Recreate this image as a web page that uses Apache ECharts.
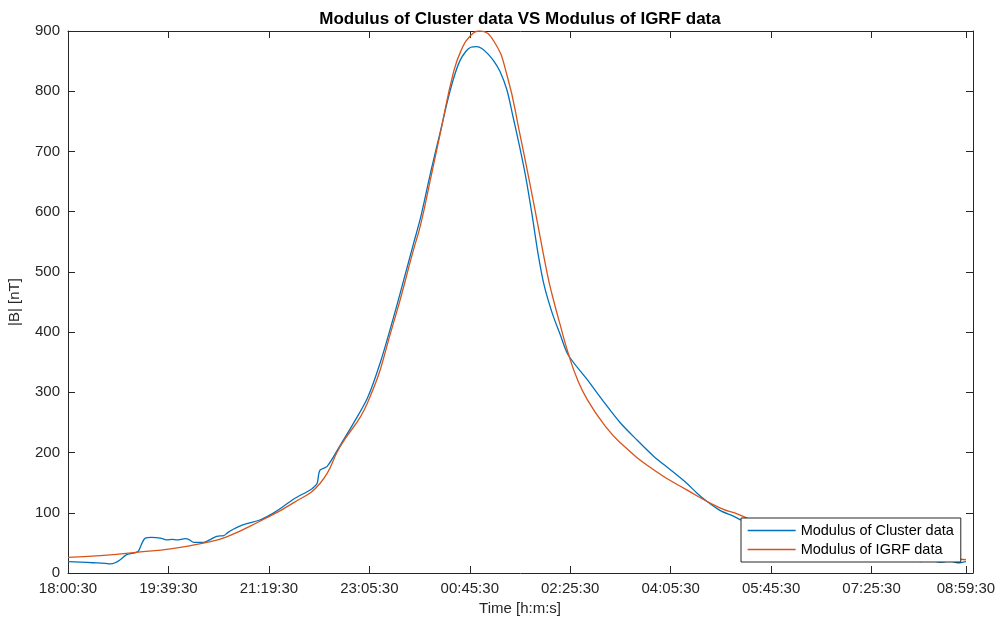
<!DOCTYPE html>
<html>
<head>
<meta charset="utf-8">
<script src="https://cdn.jsdelivr.net/npm/echarts@6/dist/echarts.min.js"></script>
<style>
html,body{margin:0;padding:0;background:#fff;}
#c{width:1002px;height:626px;}
</style>
</head>
<body>
<div id="c"></div>
<script>
// x in sample-index units (ticks every ~100)
const tickPos = [0,100,200,300,400,500,600,700,800,894];
const tickLabels = ['18:00:30','19:39:30','21:19:30','23:05:30','00:45:30','02:25:30','04:05:30','05:45:30','07:25:30','08:59:30'];
const yTicks = [0,100,200,300,400,500,600,700,800,900];

const clusterX = [0,12,25,37,42,47,52,58,65,70,73,77,83,92,98,104,108,117,121,125,135,141,148,155,159,165,171,178,191,204,214,224,238,243,248,249.5,251,258,271,284,298,311,324,334,344,351,361,371,378,384,390,396,401,407,412,418,424,430,437,443,450,456,462,468,474,482,490,498,517,533,550,567,583,600,616,626,636,649,663,670,689,709,729,759,789,819,839,849,859,869,878,886,894];
const clusterY = [19,18,17,16,15,17,22,30,33,36,47,58,59,58,55,56,55,57,55,51,51,55,61,62,67,73,78,82,88,99,110,122,135,140,149,163,171,177,212,248,290,350,424,485,547,590,665,735,785,822,850,866,873,874,871,862,850,833,802,758,705,655,595,530,478,432,396,362,321,285,249,220,194,171,149,133,119,104,94,88,75,62,52,40,30,24,22,19,21,18,20,17,19];

const igrfX = [0,32,72,102,138,158,191,224,251,271,298,324,344,351,361,371,384,392,400,410,424,437,450,464,477,482,490,498,507,517,533,550,583,616,649,668,689,729,779,829,894];
const igrfY = [26,29,35,40,51,60,86,116,149,210,282,415,537,578,655,733,833,870,891,900,883,827,728,611,498,462,412,365,322,288,248,216,171.5,138,108,97,82,62,45,33,22];

const clusterData = clusterX.map((x,i)=>[x,clusterY[i]]);
const igrfData = igrfX.map((x,i)=>[x,igrfY[i]]);

const AX = '#262626';
const FONT = '"Liberation Sans", Arial, Helvetica, sans-serif';

function axisBase(extra){
  return Object.assign({
    axisLine:{show:true,onZero:false,lineStyle:{color:AX,width:1}},
    splitLine:{show:false}
  }, extra);
}

const chart = echarts.init(document.getElementById('c'), null, {renderer:'canvas'});
chart.setOption({
  backgroundColor:'#ffffff',
  animation:false,
  grid:{left:68,right:29,top:31,bottom:53,containLabel:false},
  xAxis:[axisBase({
    type:'value', min:0, max:901, position:'bottom',
    axisTick:{show:true,inside:true,length:7,customValues:tickPos,lineStyle:{color:AX}},
    axisLabel:{show:true,customValues:tickPos,margin:8,color:'#262626',fontSize:15,fontFamily:FONT,
      formatter:function(v){const i=tickPos.indexOf(v);return i>=0?tickLabels[i]:'';}}
  }),axisBase({
    type:'value', min:0, max:901, position:'top',
    axisTick:{show:true,inside:true,length:7,customValues:tickPos,lineStyle:{color:AX}},
    axisLabel:{show:false}
  })],
  yAxis:[axisBase({
    type:'value', min:0, max:900, interval:100, position:'left',
    axisTick:{show:true,inside:true,length:7,lineStyle:{color:AX}},
    axisLabel:{show:true,margin:8,color:'#262626',fontSize:15,fontFamily:FONT,
      formatter:function(v){return yTicks.indexOf(v)>=0?String(v):'';}}
  }),axisBase({
    type:'value', min:0, max:900, interval:100, position:'right',
    axisTick:{show:true,inside:true,length:7,lineStyle:{color:AX}},
    axisLabel:{show:false}
  })],
  legend:{
    orient:'vertical', left:741, top:518,
    padding:[5,7,5,6], itemGap:4, itemWidth:48, itemHeight:14,
    backgroundColor:'#ffffff', borderColor:AX, borderWidth:1, borderRadius:0,
    itemStyle:{opacity:0},
    lineStyle:{width:1.3},
    textStyle:{color:'#000',fontSize:14.5,fontFamily:FONT},
    data:['Modulus of Cluster data','Modulus of IGRF data']
  },
  series:[{
    name:'Modulus of Cluster data', type:'line', data:clusterData,
    xAxisIndex:0, yAxisIndex:0,
    symbol:'none', showSymbol:false, smooth:0.3,
    lineStyle:{color:'#0072BD',width:1.3}, itemStyle:{color:'#0072BD'}, z:2
  },{
    name:'Modulus of IGRF data', type:'line', data:igrfData,
    xAxisIndex:0, yAxisIndex:0,
    symbol:'none', showSymbol:false, smooth:0.5,
    lineStyle:{color:'#D95319',width:1.3}, itemStyle:{color:'#D95319'}, z:3
  }],
  graphic:[
    {type:'text', x:520, y:19, style:{text:'Modulus of Cluster data VS Modulus of IGRF data', font:'bold 17px '+FONT, fill:'#000', align:'center', verticalAlign:'middle', textAlign:'center', textVerticalAlign:'middle'}},
    {type:'text', x:520, y:609, style:{text:'Time [h:m:s]', font:'15px '+FONT, fill:'#262626', align:'center', verticalAlign:'middle', textAlign:'center', textVerticalAlign:'middle'}},
    {type:'text', x:15, y:302, rotation:Math.PI/2, style:{text:'|B| [nT]', font:'15px '+FONT, fill:'#262626', align:'center', verticalAlign:'middle', textAlign:'center', textVerticalAlign:'middle'}}
  ]
});
</script>
</body>
</html>
